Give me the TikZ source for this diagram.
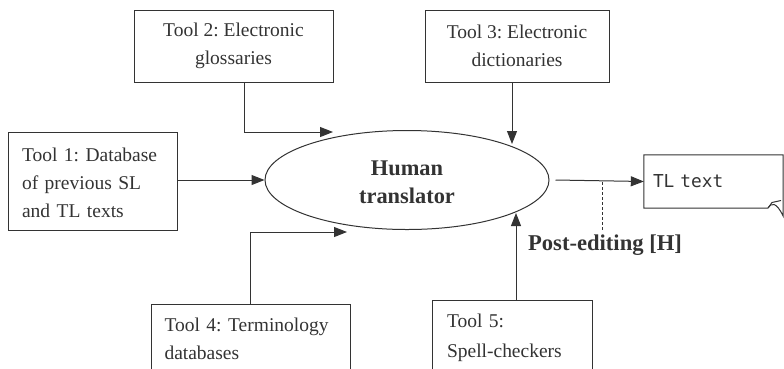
\documentclass[tikz,border=0pt]{standalone}
\usepackage{fontspec}
\setmainfont{Liberation Serif}
\setmonofont{DejaVu Sans Mono}
\usetikzlibrary{shapes.geometric,arrows.meta,calc}
\definecolor{ink}{HTML}{333333}
\tikzset{
  toolbox/.style={draw=ink, line width=1pt, text=ink, rectangle,
    font=\frenchspacing\fontsize{19.5}{28}\selectfont, inner ysep=8pt},
  arr/.style={draw=ink, line width=1pt, -{Triangle[length=13pt,width=10pt]}},
  plain/.style={draw=ink, line width=1pt},
}
\begin{document}
\begin{tikzpicture}[x=1pt,y=-1pt]
\useasboundingbox (0,0) rectangle (784,368);
\clip (0,0) rectangle (784,368);
% tools
\node[toolbox, align=left, text width=141pt, inner xsep=14pt, minimum height=98pt] (t1) at (92.5,181)
  {\rule{0pt}{17pt}Tool 1: Database\\of previous SL\\and TL texts};
\node[toolbox, align=center, minimum width=199pt, minimum height=72pt] (t2) at (233.5,46)
  {Tool 2: Electronic\\glossaries};
\node[toolbox, align=center, minimum width=184pt, minimum height=72pt] (t3) at (517,46)
  {Tool 3: Electronic\\dictionaries};
\node[toolbox, align=left, text width=172pt, inner xsep=13.5pt, inner ysep=14pt] (t4) at (250.5,339)
  {Tool 4: Terminology\\databases};
\node[toolbox, align=left, text width=130pt, inner xsep=15pt, inner ysep=14pt] (t5) at (512,338)
  {Tool 5:\\[2pt]Spell-checkers};
% translator
\node[ellipse, draw=ink, line width=1pt, text=ink, minimum width=284pt, minimum height=99pt,
  align=center, font=\fontsize{22.4}{28}\bfseries\selectfont] (hum) at (407,180)
  {\rule{0pt}{19pt}Human\\translator};
% output
\node[rectangle, minimum width=139pt, minimum height=53pt, text=ink, align=left,
  text width=121pt, inner xsep=9pt, font=\ttfamily\fontsize{17.8}{20}\selectfont] (tl) at (713.5,181.5) {TL text};
\draw[plain] (tl.south west) -- (tl.north west) -- (tl.north east) -- ([yshift=-8pt]tl.south east)
  .. controls (776,201) and (771,203) .. (768,208) -- cycle;
\draw[plain] (768,208) -- (772,202.5) -- (781,200.5);
% label
\node[text=ink, font=\fontsize{22.6}{26}\bfseries\selectfont] (pe) at (605,245) {Post-editing [H]};
% connectors
\coordinate (e2) at (333,132);
\coordinate (e3) at (512,144);
\coordinate (e4) at (347,232);
\coordinate (e5) at (516,213);
\coordinate (d1) at (602,182);
\draw[arr] (t1.east |- hum.west) -- (hum.west);
\draw[arr] ($(t2.south west)!0.553!(t2.south east)$) |- (e2);
\draw[arr] ([xshift=-5pt]t3.south) -- (e3);
\draw[arr] (t4.north) |- (e4);
\draw[arr] ([xshift=4pt]t5.north) -- (e5);
\draw[arr] ([xshift=6pt]hum.east) -- (tl.west);
\draw[draw=ink, line width=1pt, dash pattern=on 3pt off 2pt] (d1) -- (d1 |- pe.north);
\end{tikzpicture}
\end{document}
